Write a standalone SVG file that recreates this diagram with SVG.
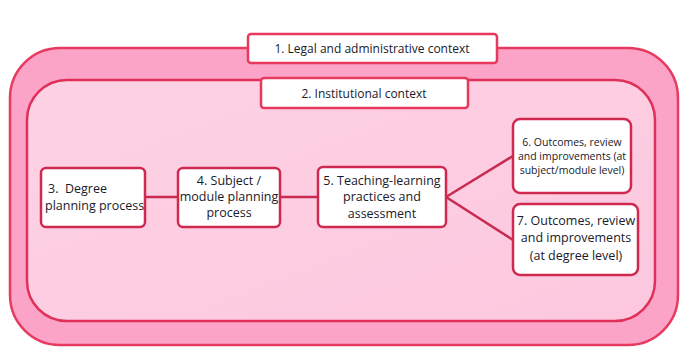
<svg xmlns="http://www.w3.org/2000/svg" width="686" height="361" viewBox="0 0 686 361">
<defs>
<linearGradient id="g2" x1="0" y1="0" x2="1" y2="1">
<stop offset="0" stop-color="#fdd2e4"/><stop offset="1" stop-color="#fdc8df"/>
</linearGradient>
<style>
.t{font-family:"Open Sans","Noto Sans",sans-serif;fill:#1a1a2a;text-anchor:middle}
.n{fill:#ffffff;stroke:#d0284f;stroke-width:2.5}
.l{fill:#ffffff;stroke:#e8385e;stroke-width:2.5}
.c{stroke:#c82a50;stroke-width:2.5;fill:none}
</style>
</defs>
<g id="ctx1">
<rect x="10" y="48" width="668" height="297" rx="50" ry="50" fill="#fca3c8" stroke="#e83a60" stroke-width="2.5"/>
</g>
<g id="ctx2">
<rect x="27" y="80" width="628" height="241" rx="40" ry="40" fill="url(#g2)" stroke="#e0305a" stroke-width="2.5"/>
</g>
<g id="label1">
<rect class="l" x="248" y="34" width="249" height="29" rx="3"/>
<text class="t" x="372" y="53" font-size="12">1. Legal and administrative context</text>
</g>
<g id="label2">
<rect class="l" x="261" y="78" width="207" height="30" rx="3"/>
<text class="t" x="364" y="98" font-size="12">2. Institutional context</text>
</g>
<g id="connectors">
<line class="c" x1="145" y1="197" x2="178" y2="197"/>
<line class="c" x1="280" y1="197" x2="318" y2="197"/>
<line class="c" x1="446" y1="197" x2="513" y2="156"/>
<line class="c" x1="446" y1="197" x2="513" y2="240"/>
</g>
<g id="n3">
<rect class="n" x="41" y="168" width="104" height="59" rx="5"/>
<text class="t" font-size="12.5" style="text-anchor:start"><tspan x="48" y="193">3.&#160; Degree</tspan><tspan x="45" y="210">planning process</tspan></text>
</g>
<g id="n4">
<rect class="n" x="178" y="168" width="102" height="59" rx="5"/>
<text class="t" font-size="12.5"><tspan x="229" y="185">4. Subject /</tspan><tspan x="229" y="201">module planning</tspan><tspan x="229" y="217">process</tspan></text>
</g>
<g id="n5">
<rect class="n" x="318" y="167" width="128" height="60" rx="5"/>
<text class="t" font-size="12.5"><tspan x="382" y="185">5. Teaching-learning</tspan><tspan x="382" y="201">practices and</tspan><tspan x="382" y="218">assessment</tspan></text>
</g>
<g id="n6">
<rect class="n" x="513" y="119" width="118" height="74" rx="7"/>
<text class="t" font-size="10.5"><tspan x="572" y="146">6. Outcomes, review</tspan><tspan x="572" y="160">and improvements (at</tspan><tspan x="572" y="174">subject/module level)</tspan></text>
</g>
<g id="n7">
<rect class="n" x="513" y="204" width="125" height="71" rx="7"/>
<text class="t" font-size="12.5"><tspan x="576" y="225">7. Outcomes, review</tspan><tspan x="576" y="242">and improvements</tspan><tspan x="576" y="260">(at degree level)</tspan></text>
</g>
</svg>
